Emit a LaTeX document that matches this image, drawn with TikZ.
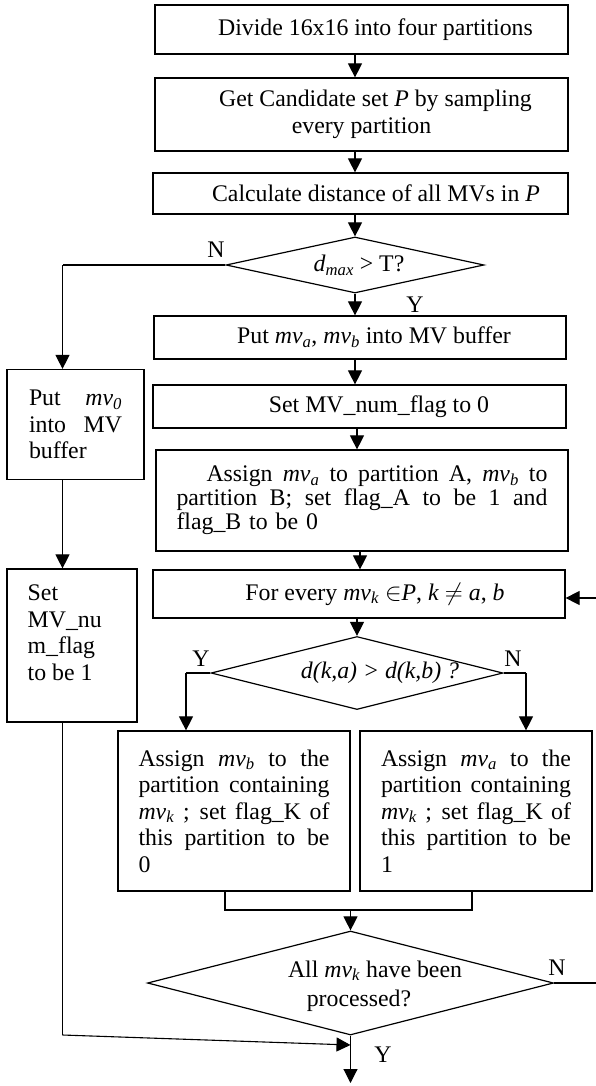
\documentclass[tikz,border=0pt]{standalone}
\usepackage{fontspec}
\setmainfont{Liberation Serif}
\usetikzlibrary{arrows.meta,shapes.geometric}
\newcommand{\mvv}[1]{\textit{mv}\textsubscript{\textit{#1}}}
\newcommand{\jl}[2]{{\spaceskip=0pt\xspaceskip=0pt\makebox[#1][s]{#2}}}
\begin{document}
\begin{tikzpicture}[x=1pt,y=-1pt,
  every node/.style={font=\fontsize{23.8}{26.5}\selectfont},
  box/.style={draw, line width=1.2pt, inner sep=0pt, align=center},
  jbox/.style={draw, line width=1.2pt, inner ysep=0pt, align=left},
  dia/.style={draw, diamond, line width=1.2pt, inner sep=0pt, aspect=1},
  lbl/.style={inner sep=0pt},
  ln/.style={line width=1.1pt},
  arr/.style={ln, -{Triangle[length=14pt,width=14pt]}}]
\useasboundingbox (0,0) rectangle (595,1086);

% main column
\node[box, minimum width=413pt, minimum height=49pt] (b1) at (361.5,29.5)
  {\hspace*{28pt}Divide 16x16 into four partitions};
\node[box, minimum width=413pt, minimum height=73pt] (b2) at (361.5,114.5)
  {\hspace*{28pt}Get Candidate set \textit{P} by sampling\\every partition};
\node[box, minimum width=415pt, minimum height=41pt] (b3) at (360.5,193.5)
  {\hspace*{31pt}Calculate distance of all MVs in \textit{P}};
\node[dia, minimum width=258pt, minimum height=56pt] (d1) at (355,265) {};
\node[lbl] (d1t) at (359,265) {\textit{d}\textsubscript{\textit{max}} > T?};
\node[box, minimum width=412pt, minimum height=43pt] (b4) at (360,337.5)
  {\hspace*{28pt}Put \mvv{a}, \mvv{b} into MV buffer};
\node[box, minimum width=413pt, minimum height=43pt] (b5) at (359.5,406.5)
  {\hspace*{39pt}Set MV\_num\_flag to 0};
\node[jbox, text width=371pt, inner xsep=20.5pt, minimum height=101pt,
  font=\fontsize{23.8}{24}\selectfont] (b6) at (362,500.5)
  {\jl{371pt}{\hspace*{30pt}Assign \mvv{a} to partition A, \mvv{b} to}\\\jl{371pt}{partition B; set flag\_A to be 1 and}\\flag\_B to be 0};
\node[box, minimum width=412pt, minimum height=48pt] (b7) at (359,594)
  {\hspace*{32pt}For every \mvv{k} $\in$\textit{P}, \textit{k} $\neq$ \textit{a}, \textit{b}};
\node[dia, minimum width=292pt, minimum height=73pt] (d2) at (357,673) {};
\node[lbl] (d2t) at (380,673) {\textit{d(k,a) > d(k,b) ?}};
\node[jbox, text width=191pt, inner xsep=20.5pt, minimum height=160pt] (b8) at (234,811)
  {\jl{191pt}{Assign \mvv{b} to the}\\\jl{191pt}{partition containing}\\\jl{191pt}{\mvv{k} ; set flag\_K of}\\\jl{191pt}{this partition to be}\\0};
\node[jbox, text width=190pt, inner xsep=21pt, minimum height=160pt] (b9) at (476,811)
  {\jl{190pt}{Assign \mvv{a} to the}\\\jl{190pt}{partition containing}\\\jl{190pt}{\mvv{k} ; set flag\_K of}\\\jl{190pt}{this partition to be}\\1};
\node[dia, minimum width=406pt, minimum height=104pt] (d3) at (350.5,983) {};
\node[lbl, align=center, font=\fontsize{23.8}{29}\selectfont] (d3t) at (359,986)
  {\hspace*{32pt}All \mvv{k} have been\\processed?};

% left column
\node[jbox, text width=93pt, inner xsep=22pt, minimum height=110pt] (L1) at (75.5,424.5)
  {\jl{93pt}{Put \mvv{0}}\\\jl{93pt}{into MV}\\buffer};
\node[draw, line width=1.2pt, minimum width=130pt, minimum height=153pt, inner sep=0pt] (L2) at (72,645.5) {};
\node[lbl, anchor=north west, align=left] (L2t) at (27.5,585) {Set\\MV\_nu\\m\_flag\\to be 1};

% labels
\node[lbl] (n1) at (216,250) {N};
\node[lbl] (y1) at (415,305) {Y};
\node[lbl] (y2) at (201,659) {Y};
\node[lbl] (n2) at (513,659) {N};
\node[lbl] (n3) at (557,968) {N};
\node[lbl] (y3) at (383,1055) {Y};

% helper coordinates
\coordinate (nc) at (62.5,265);
\coordinate (yc) at (186,673);
\coordinate (nc2) at (526,673);
\coordinate (mg1) at (225,910);
\coordinate (mg2) at (472,910);
\coordinate (mg3) at (350.5,910);
\coordinate (lr1) at (600,983);
\coordinate (lr2) at (600,598);
\coordinate (lb) at (62.5,1035);
\coordinate (mj) at (350.5,1045);
\coordinate (endc) at (350.5,1083);

% connectors
\draw[arr] (b1.south -| d1.north) -- (b2.north -| d1.north);
\draw[arr] (b2.south -| d1.north) -- (b3.north -| d1.north);
\draw[arr] (b3.south -| d1.north) -- (d1.north);
\draw[arr] (d1.south) -- (b4.north -| d1.south);
\draw[arr] (b4.south -| d1.south) -- (b5.north -| d1.south);
\draw[arr] (b5.south -| d2.north) -- (b6.north -| d2.north);
\draw[arr] ([xshift=-2pt]b6.south) -- ([xshift=-2pt]b6.south |- b7.north);
\draw[arr] (b7.south -| d2.north) -- (d2.north);
\draw[ln] (d1.west) -- (nc);
\draw[arr] (nc) -- (nc |- L1.north);
\draw[arr] (L1.south -| nc) -- (L2.north -| nc);
\draw[ln] (L2.south -| nc) -- (lb);
\draw[arr] (lb) -- (mj);
\draw[ln] (d2.west) -- (yc);
\draw[arr] (yc) -- (yc |- b8.north);
\draw[ln] (d2.east) -- (nc2);
\draw[arr] (nc2) -- (nc2 |- b9.north);
\draw[ln] (b8.south -| mg1) -- (mg1) -- (mg2) -- (b9.south -| mg2);
\draw[arr] (mg3) -- (d3.north);
\draw[ln] (d3.east) -- (lr1) -- (lr2);
\draw[arr] (lr2) -- ([yshift=-4pt]b7.east);
\draw[arr] (d3.south) -- (endc);
\end{tikzpicture}
\end{document}
